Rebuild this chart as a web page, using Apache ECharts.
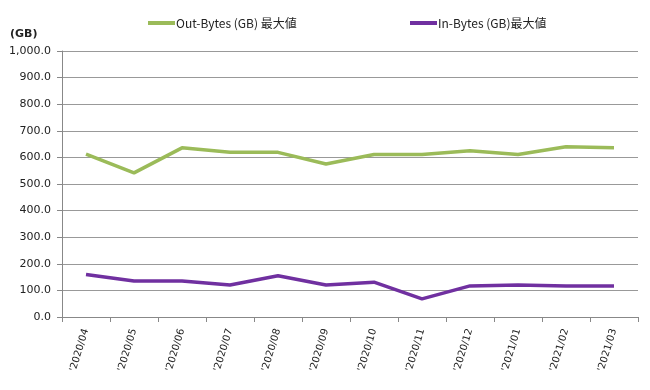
<!DOCTYPE html>
<html><head><meta charset="utf-8">
<script src="https://cdn.jsdelivr.net/npm/echarts@6/dist/echarts.min.js"></script>
<style>html,body{margin:0;padding:0;background:#fff}#c{width:650px;height:390px}</style>
</head><body><div id="c"></div>
<script>
const categories = ["'2020/04","'2020/05","'2020/06","'2020/07","'2020/08","'2020/09","'2020/10","'2020/11","'2020/12","'2021/01","'2021/02","'2021/03"];
const outBytes = [612, 542, 636, 619, 619, 575, 611, 611, 625, 611, 640, 636];
const inBytes = [160, 135, 135, 120, 155, 120, 131, 68, 117, 120, 117, 117];
const outName = 'Out-Bytes (GB) 最大値';
const inName = 'In-Bytes (GB)最大値';
const unitLabel = '(GB)';

const font = '"DejaVu Sans", sans-serif';
const lfont = '"Noto Sans CJK JP", sans-serif';
const chart = echarts.init(document.getElementById('c'), null, {renderer:'canvas'});
chart.setOption({
  animation: false,
  backgroundColor: '#fff',
  title: {text: unitLabel, left: 5, top: 24, textStyle: {fontSize: 11, fontWeight: 'bold', color: '#222', fontFamily: font}},
  legend: [
    {data: [outName], left: 143, top: 12, icon: 'rect', itemWidth: 27, itemHeight: 4, textStyle: {fontSize: 12, color: '#222', fontFamily: lfont, padding: [0,0,0,-4]}},
    {data: [inName], left: 405, top: 12, icon: 'rect', itemWidth: 27, itemHeight: 4, textStyle: {fontSize: 12, color: '#222', fontFamily: lfont, padding: [0,0,0,-4]}}
  ],
  grid: {left: 62, right: 12, top: 51, bottom: 73, containLabel: false},
  xAxis: {
    type: 'category', data: categories, boundaryGap: true,
    axisLine: {lineStyle: {color: '#888', width: 1}},
    axisTick: {show: true, length: 5, lineStyle: {color: '#888'}},
    axisLabel: {rotate: 73, fontSize: 10, color: '#222', fontFamily: font, margin: 12}
  },
  yAxis: {
    type: 'value', min: 0, max: 1000, interval: 100,
    axisLine: {show: true, lineStyle: {color: '#888'}},
    axisTick: {show: true, length: 5, lineStyle: {color: '#888'}},
    splitLine: {lineStyle: {color: '#999', width: 1}},
    axisLabel: {fontSize: 11, color: '#222', fontFamily: font, margin: 11,
      formatter: v => v.toLocaleString('en-US', {minimumFractionDigits: 1, maximumFractionDigits: 1})}
  },
  series: [
    {name: outName, type: 'line', data: outBytes, showSymbol: false, symbol: 'none', lineStyle: {color: '#9BBB59', width: 3.5}, itemStyle: {color: '#9BBB59'}},
    {name: inName, type: 'line', data: inBytes, showSymbol: false, symbol: 'none', lineStyle: {color: '#7030A0', width: 3.5}, itemStyle: {color: '#7030A0'}}
  ]
});
</script></body></html>
